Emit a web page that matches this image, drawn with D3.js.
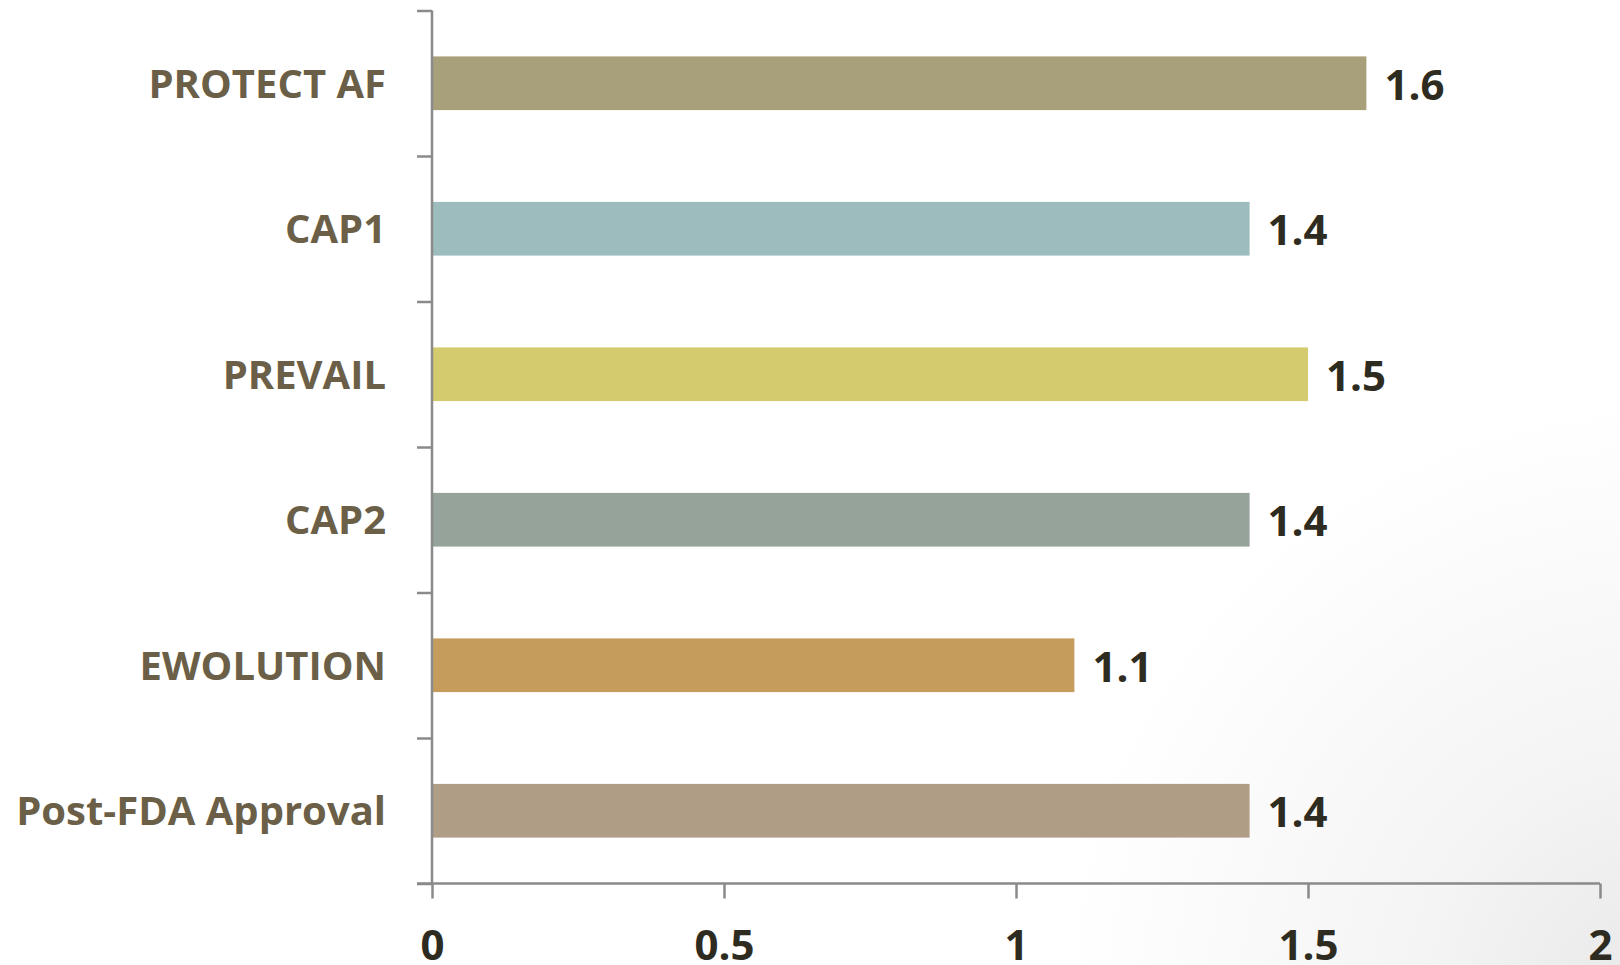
<!DOCTYPE html>
<html>
<head>
<meta charset="utf-8">
<script src="https://cdn.jsdelivr.net/npm/d3@7"></script>
<style>
  html, body { margin: 0; padding: 0; background: #fff; }
  svg { display: block; }
</style>
</head>
<body>
<svg id="chart" width="1620" height="965"></svg>
<script>
const categories = ["PROTECT AF", "CAP1", "PREVAIL", "CAP2", "EWOLUTION", "Post-FDA Approval"];
const values = [1.6, 1.4, 1.5, 1.4, 1.1, 1.4];
const barColors = ["#a7a07a", "#9dbcbd", "#d4ca6e", "#95a39b", "#c69c5c", "#b09d85"];
const xTicks = [0, 0.5, 1, 1.5, 2];
const xTickLabels = ["0", "0.5", "1", "1.5", "2"];

(function () {
const W = 1620, H = 965;
const svg = d3.select("#chart");

// background gradient (bottom-right grey shading)
const defs = svg.append("defs");
const rg = defs.append("radialGradient")
  .attr("id", "bg").attr("gradientUnits", "userSpaceOnUse")
  .attr("cx", 1660).attr("cy", 1000).attr("r", 600);
rg.append("stop").attr("offset", "0").attr("stop-color", "#e8e8e8");
rg.append("stop").attr("offset", "0.4").attr("stop-color", "#f4f4f4");
rg.append("stop").attr("offset", "1").attr("stop-color", "#ffffff");
svg.append("rect").attr("width", W).attr("height", H).attr("fill", "url(#bg)");

const mLeft = 432, mRight = 1600, mTop = 10.5, mBottom = 883.5;

const x = d3.scaleLinear().domain([0, 2]).range([mLeft, mRight]);
const y = d3.scaleBand().domain(categories).range([mTop, mBottom]).paddingInner(0.631).paddingOuter(0.3155);

const axisColor = "#8a8a8a";
const labelFont = "'Open Sans', 'Noto Sans', sans-serif";

// bars
svg.append("g").selectAll("rect")
  .data(categories)
  .join("rect")
  .attr("x", x(0))
  .attr("y", d => y(d))
  .attr("width", (d, i) => x(values[i]) - x(0))
  .attr("height", y.bandwidth())
  .attr("fill", (d, i) => barColors[i]);

// value labels
svg.append("g").selectAll("text")
  .data(categories)
  .join("text")
  .attr("x", (d, i) => x(values[i]) + 18)
  .attr("y", d => y(d) + y.bandwidth() / 2)
  .attr("dy", "0.39em")
  .attr("font-family", labelFont)
  .attr("font-weight", 700)
  .attr("font-size", 42)
  .attr("fill", "#2e2b20")
  .text((d, i) => values[i]);

// y axis with boundary ticks
const yBound = d3.scaleLinear().domain([0, categories.length]).range([mTop, mBottom]);
const yAxisG = svg.append("g").attr("transform", `translate(${mLeft},0)`)
  .call(d3.axisLeft(yBound).tickValues(d3.range(0, categories.length + 1)).tickSize(15).tickSizeOuter(0).tickFormat(""));
yAxisG.selectAll("path, line").attr("stroke", axisColor).attr("stroke-width", 2.5);
yAxisG.select("path").attr("d", `M0,${mTop}V${mBottom}`);

// category labels
svg.append("g").selectAll("text")
  .data(categories)
  .join("text")
  .attr("x", 386)
  .attr("y", d => y(d) + y.bandwidth() / 2)
  .attr("dy", "0.36em")
  .attr("text-anchor", "end")
  .attr("font-family", labelFont)
  .attr("font-weight", 700)
  .attr("font-size", 40)
  .attr("fill", "#6b5f48")
  .text(d => d);

// x axis
const xAxisG = svg.append("g").attr("transform", `translate(0,${mBottom})`)
  .call(d3.axisBottom(x).tickValues(xTicks).tickSize(15).tickSizeOuter(0)
    .tickFormat((d, i) => xTickLabels[i]));
xAxisG.selectAll("path, line").attr("stroke", axisColor).attr("stroke-width", 2.5);
xAxisG.select("path").attr("d", `M${mLeft - 15},0H${mRight}`);
xAxisG.selectAll("text")
  .attr("y", 76).attr("dy", null)
  .attr("font-family", labelFont)
  .attr("font-weight", 700)
  .attr("font-size", 42)
  .attr("fill", "#2e2b20");
})();
</script>
</body>
</html>
